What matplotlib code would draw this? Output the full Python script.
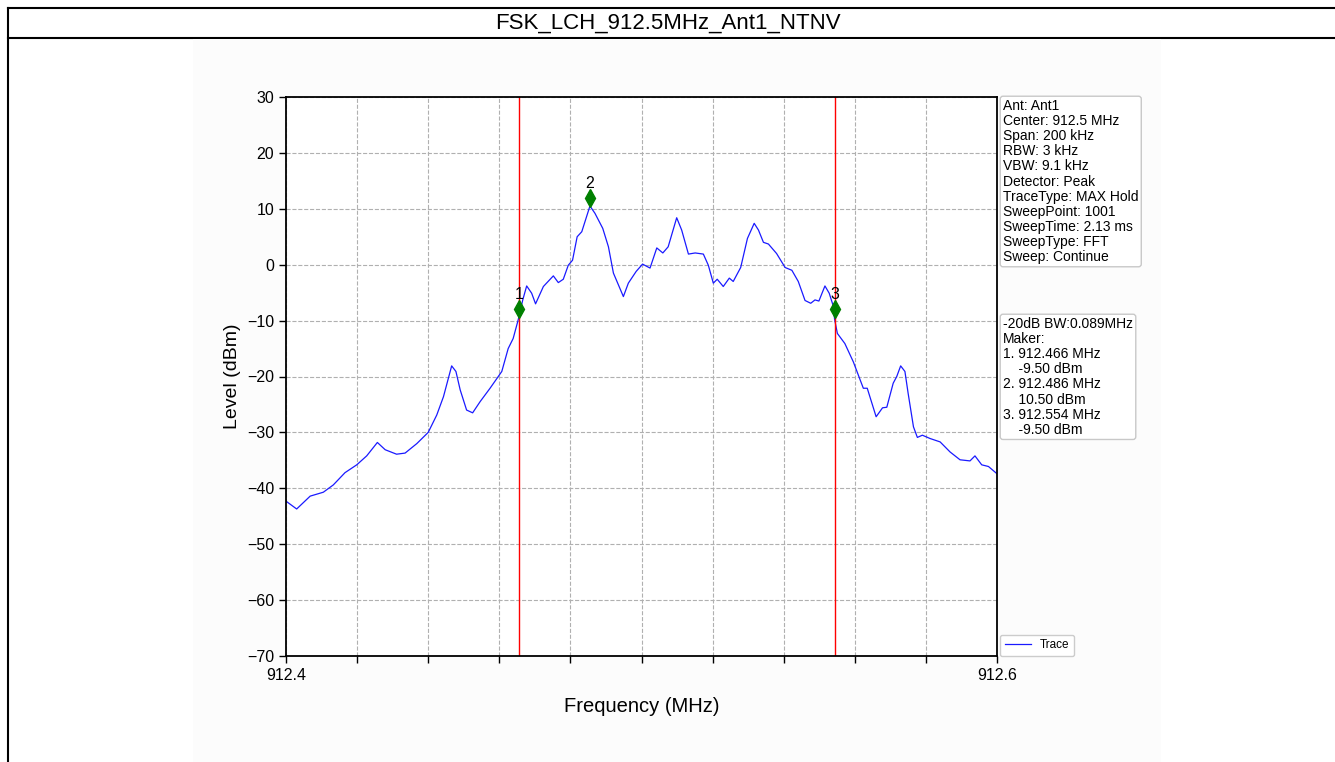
import matplotlib
matplotlib.use("Agg")
import matplotlib.pyplot as plt
from matplotlib.patches import Rectangle
from matplotlib.lines import Line2D

plt.rcParams['font.family'] = ['Liberation Sans', 'DejaVu Sans']

# trace
freq = [912.4000, 912.4030, 912.4068, 912.4105, 912.4133, 912.4166, 912.4199, 912.4227,
        912.4257, 912.4279, 912.4311, 912.4335, 912.4368, 912.4400, 912.4424, 912.4443,
        912.4466, 912.4478, 912.4490, 912.4508, 912.4525, 912.4546, 912.4574, 912.4607,
        912.4625, 912.4639, 912.4653, 912.4666, 912.4677, 912.4691, 912.4702, 912.4724,
        912.4752, 912.4766, 912.4780, 912.4794, 912.4806, 912.4819, 912.4832, 912.4855,
        912.4869, 912.4891, 912.4907, 912.4921, 912.4949, 912.4963, 912.4985, 912.5003,
        912.5024, 912.5043, 912.5060, 912.5075, 912.5099, 912.5113, 912.5132, 912.5151,
        912.5174, 912.5188, 912.5202, 912.5213, 912.5230, 912.5247, 912.5258, 912.5279,
        912.5298, 912.5317, 912.5329, 912.5343, 912.5357, 912.5380, 912.5404, 912.5423,
        912.5441, 912.5460, 912.5476, 912.5488, 912.5499, 912.5516, 912.5528, 912.5540,
        912.5543, 912.5551, 912.5572, 912.5596, 912.5615, 912.5624, 912.5635, 912.5660,
        912.5678, 912.5690, 912.5708, 912.5718, 912.5729, 912.5741, 912.5750, 912.5765,
        912.5776, 912.5790, 912.5812, 912.5840, 912.5868, 912.5896, 912.5924, 912.5938,
        912.5957, 912.5976, 912.6000]
level = [-42.3, -43.7, -41.4, -40.7, -39.4, -37.2, -35.8, -34.2,
         -31.8, -33.1, -33.9, -33.7, -32.0, -30.0, -26.9, -23.6,
         -18.1, -19.1, -22.4, -26.0, -26.5, -24.5, -22.1, -19.1,
         -15.0, -13.2, -9.9, -6.3, -3.8, -5.1, -7.0, -3.9,
         -2.0, -3.2, -2.6, -0.1, 0.8, 5.0, 5.9, 10.5,
         9.2, 6.5, 3.2, -1.5, -5.7, -3.3, -1.2, 0.1,
         -0.6, 3.0, 2.1, 3.2, 8.4, 6.2, 1.9, 2.1,
         1.9, -0.1, -3.3, -2.6, -3.9, -2.4, -3.0, -0.5,
         4.7, 7.4, 6.2, 4.0, 3.7, 2.0, -0.5, -1.0,
         -3.0, -6.4, -6.9, -6.3, -6.5, -3.8, -5.1, -7.5,
         -9.7, -12.3, -14.1, -17.4, -20.6, -22.1, -22.1, -27.2,
         -25.6, -25.5, -21.2, -20.0, -18.1, -19.1, -23.0, -29.0,
         -30.9, -30.5, -31.1, -31.7, -33.5, -34.9, -35.1, -34.2,
         -35.8, -36.1, -37.4]

# markers (exact positions, box shows them rounded)
mk_freq = [912.4655, 912.4855, 912.5545]
mk_level = [-9.5, 10.5, -9.5]
mk_name = ['1', '2', '3']
bw_lines = [912.4655, 912.5545]

info = ["Ant: Ant1", "Center: 912.5 MHz", "Span: 200 kHz", "RBW: 3 kHz", "VBW: 9.1 kHz",
        "Detector: Peak", "TraceType: MAX Hold", "SweepPoint: 1001", "SweepTime: 2.13 ms",
        "SweepType: FFT", "Sweep: Continue"]
marker_info = ["-20dB BW:0.089MHz", "Maker:",
               "1. 912.466 MHz", "    -9.50 dBm",
               "2. 912.486 MHz", "    10.50 dBm",
               "3. 912.554 MHz", "    -9.50 dBm"]

xticks = [912.4 + 0.02 * i for i in range(11)]
yticks = list(range(-70, 31, 10))

W, H = 1335, 762
fig = plt.figure(figsize=(W / 100, H / 100), dpi=100)
fig.patch.set_facecolor('white')

# page frame / title cell
fig.add_artist(Line2D([8 / W, 1], [1 - 8 / H, 1 - 8 / H], color='black', lw=1.5))
fig.add_artist(Line2D([8 / W, 8 / W], [0, 1 - 8 / H], color='black', lw=1.5))
fig.add_artist(Line2D([8 / W, 1], [1 - 38 / H, 1 - 38 / H], color='black', lw=1.5))
fig.add_artist(Rectangle((193 / W, 0), (1161 - 193) / W, 1 - 38.5 / H,
                         transform=fig.transFigure, facecolor='#fcfcfc',
                         edgecolor='none', zorder=2))
fig.text(668 / W, 1 - 23 / H, "FSK_LCH_912.5MHz_Ant1_NTNV", ha='center', va='center',
         fontsize=16)

ax = fig.add_axes([286 / W, 1 - 656 / H, (997 - 286) / W, (656 - 97) / H])
ax.set_zorder(3)
ax.set_facecolor('white')
ax.plot(freq, level, color='#1a1aff', lw=0.9, label='Trace')
for f in bw_lines:
    ax.axvline(f, color='#ff0000', lw=1.0)
for f, l, n in zip(mk_freq, mk_level, mk_name):
    ax.plot(f, l + 1.5, marker='d', color='green', markersize=9, ls='none')
    ax.annotate(n, (f, l + 1.5), xytext=(0, 5), textcoords='offset points',
                ha='center', va='bottom', fontsize=11.5)

ax.set_xlim(912.4, 912.6)
ax.set_ylim(-70, 30)
ax.set_xticks(xticks)
ax.set_xticklabels(['912.4'] + [''] * 9 + ['912.6'])
ax.set_yticks(yticks)
ax.tick_params(labelsize=11.5, width=1.0, length=5)
ax.grid(True, ls='--', color='#b0b0b0', lw=0.8)
for s in ax.spines.values():
    s.set_linewidth(1.3)
ax.set_xlabel("Frequency (MHz)", fontsize=14.5, labelpad=10)
ax.set_ylabel("Level (dBm)", fontsize=14)

ax.legend(loc='lower left', bbox_to_anchor=(1.004, 0.0), fontsize=8.5, borderaxespad=0,
          handlelength=2.2, framealpha=1)

bbox = dict(boxstyle='round,pad=0.2', facecolor='white', edgecolor='#c8c8c8', lw=1)
fig.text(1003 / W, 1 - 99 / H, "\n".join(info), ha='left', va='top', fontsize=10,
         linespacing=1.1, bbox=bbox, zorder=4)
fig.text(1003 / W, 1 - 317 / H, "\n".join(marker_info), ha='left', va='top', fontsize=10,
         linespacing=1.1, bbox=bbox, zorder=4)

fig.savefig("out.png", dpi=100)
